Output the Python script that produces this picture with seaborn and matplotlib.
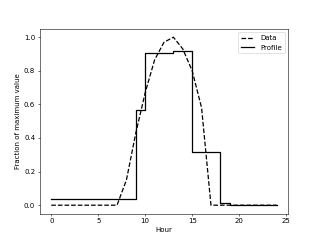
import numpy as np
import pandas as pd
import seaborn as sns
import matplotlib
matplotlib.use("Agg")
import matplotlib.pyplot as plt

# hourly measured data (fraction of max)
DATA_HOURS = list(range(25))
DATA_VALUES = [0.0, 0.0, 0.0, 0.0, 0.0, 0.0, 0.0, 0.0, 0.15, 0.43, 0.67,
               0.865, 0.97, 1.0, 0.93, 0.80, 0.58, 0.0, 0.0, 0.0, 0.0,
               0.0, 0.0, 0.0, 0.0]

# step profile (value holds from each hour until the next)
PROFILE_HOURS = [0, 9, 10, 13, 15, 18, 19, 24]
PROFILE_VALUES = [0.036, 0.566, 0.905, 0.918, 0.314, 0.012, 0.004, 0.004]

data_df = pd.DataFrame({"Hour": DATA_HOURS, "value": DATA_VALUES})
prof_df = pd.DataFrame({"Hour": PROFILE_HOURS, "value": PROFILE_VALUES})

fig, ax = plt.subplots(figsize=(6.4, 4.8), dpi=50)
sns.lineplot(data=data_df, x="Hour", y="value", ax=ax, color="black",
             linestyle="--", linewidth=1.8, label="Data")
sns.lineplot(data=prof_df, x="Hour", y="value", ax=ax, color="black",
             drawstyle="steps-post", linewidth=1.8, label="Profile")

ax.set_xlabel("Hour")
ax.set_ylabel("Fraction of maximum value")
ax.legend(loc="upper right")

plt.savefig("out.png", dpi=50)
plt.close()
